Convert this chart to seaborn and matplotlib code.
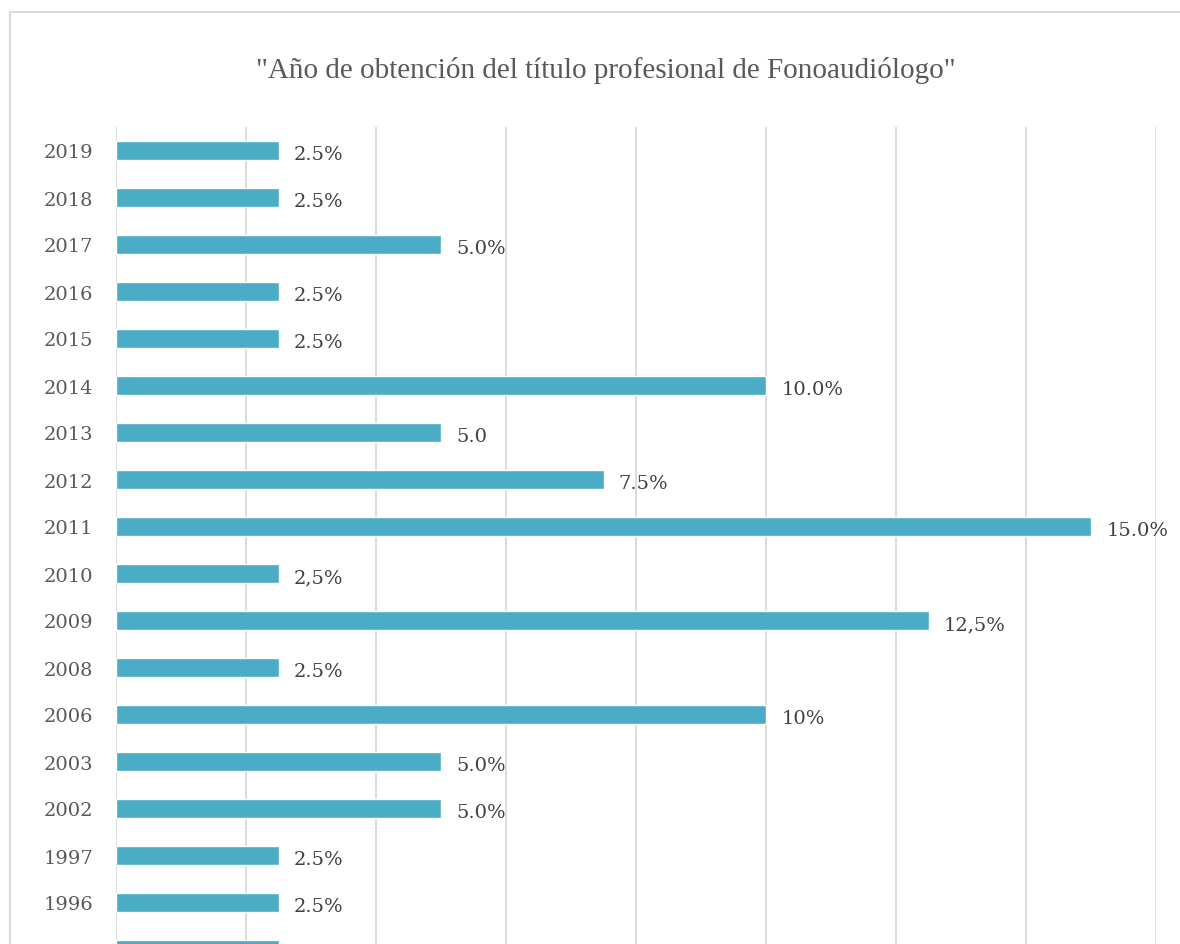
import matplotlib
matplotlib.use("Agg")
import matplotlib.pyplot as plt
import seaborn as sns
import pandas as pd
from matplotlib.patches import Rectangle

years = ["2019", "2018", "2017", "2016", "2015", "2014", "2013", "2012", "2011",
         "2010", "2009", "2008", "2006", "2003", "2002", "1997", "1996", "1986"]
values = [2.5, 2.5, 5.0, 2.5, 2.5, 10.0, 5.0, 7.5, 15.0,
          2.5, 12.5, 2.5, 10.0, 5.0, 5.0, 2.5, 2.5, 2.5]
labels = ["2.5%", "2.5%", "5.0%", "2.5%", "2.5%", "10.0%", "5.0", "7.5%", "15.0%",
          "2,5%", "12,5%", "2.5%", "10%", "5.0%", "5.0%", "2.5%", "2.5%", "2.5%"]
title = '"Año de obtención del título profesional de Fonoaudiólogo"'

df = pd.DataFrame({"year": years, "value": values})

sns.set_theme(style="white")
plt.rcParams['font.family'] = ['DejaVu Serif', 'Liberation Serif']

W, H = 1180, 945
fig = plt.figure(figsize=(W / 100, H / 100), dpi=100)

# outer chart border
fig.patches.append(Rectangle((10 / W, -0.1), 1.2, 1 - 13 / H + 0.1, transform=fig.transFigure,
                             fill=False, edgecolor="#D9D9D9", linewidth=1.5))

top_px = 128
row_px = 47
n = len(years)
left = 116 / W
right = 1156 / W
height = n * row_px / H
bottom = 1 - top_px / H - height
ax = fig.add_axes([left, bottom, right - left, height])

sns.barplot(data=df, x="value", y="year", order=years, orient="h",
            color="#4BACC6", saturation=1, width=0.40, ax=ax)

ax.set_xlim(0, 16)
ax.set_ylim(n - 0.5, -0.5)
ax.set_xticks(range(0, 17, 2))
ax.xaxis.grid(True, color="#D9D9D9", linewidth=1.3)
ax.set_axisbelow(True)
for s in ax.spines.values():
    s.set_visible(False)
ax.set_xlabel("")
ax.set_ylabel("")
ax.tick_params(axis="x", labelbottom=False, length=0)
ax.tick_params(axis="y", length=0, pad=16.5, labelsize=14, labelcolor="#595959")

for i, (v, lab) in enumerate(zip(values, labels)):
    ax.annotate(lab, xy=(v, i), xytext=(11, -2.5), textcoords="offset points",
                ha="left", va="center", fontsize=14, color="#404040",
                annotation_clip=False)

fig.text(606 / W, 1 - 70 / H, title, ha="center", va="center",
         fontsize=21, color="#595959", family="Liberation Serif")

fig.savefig("out.png", dpi=100)
